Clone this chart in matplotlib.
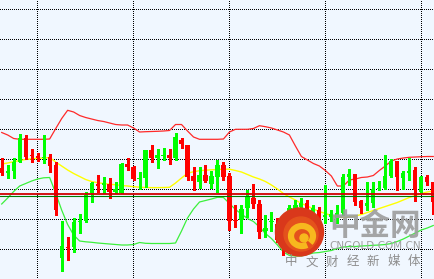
import matplotlib
matplotlib.use("Agg")
import matplotlib.pyplot as plt
from matplotlib.patches import Circle, Arc

plt.rcParams['font.family'] = ['Noto Sans CJK SC', 'DejaVu Sans']

# candle data (price units), one entry per bar
opens = [110.7, 106.3, 108, 117.3, 140.7, 124, 123, 120.7, 122.3, 114,
         21.3, 32.3, 32.3, 56.7, 58, 86.3, 95, 94, 94.7, 87.3,
         86.3, 115, 112.3, 100, 101.3, 129, 120.7, 122.7, 124, 120.7,
         139, 134, 103, 97.3, 104, 95, 102.3, 114, 103, 59,
         59, 70.7, 81.3, 75, 48.3, 57.3, 55, 37.3, 34, 70,
         72.3, 75.7, 67.3, 69, 62.3, 62, 60.7, 65.7, 101.7, 105,
         78.5, 73.5, 75.7, 90, 90.7, 103, 118, 101.3, 105.7, 109,
         87.3, 101.7, 96.7]
closes = [105.7, 108, 117.3, 140.7, 122.3, 123, 120.7, 122.3, 113.3, 69,
          33, 31.3, 57.3, 58.3, 84, 96.3, 93.3, 96, 87.3, 90,
          114.7, 112.3, 99.7, 101.3, 129, 121.3, 124, 123.3, 120.7, 141.7,
          135, 102.3, 98.3, 104, 98.3, 103.3, 114, 102.3, 58.3, 58.3,
          70, 82.3, 74.7, 47.3, 50.7, 58, 39, 30.7, 71, 74,
          75.7, 69, 71, 60.7, 64, 65, 65.7, 102.3, 105, 77.3,
          71, 76.2, 90.2, 91.3, 103, 118, 102.5, 105.7, 108, 89,
          102.3, 96.7, 76.7]
highs = [120.7, 114, 120.7, 144.7, 144, 130, 125.7, 144, 124.7, 117.3,
         58, 41.7, 61, 64.7, 87.3, 97.3, 104, 102.3, 100.7, 96.7,
         115.7, 120.7, 113, 107.3, 129.5, 134, 129.7, 130.7, 130, 145.7,
         140.7, 134, 111.7, 112.3, 114, 108, 119, 116.7, 105.7, 74,
         74, 89, 94.7, 79, 64, 66.7, 60.7, 41, 74, 79,
         81, 79, 74, 72.3, 94, 69, 74, 105, 109.7, 105,
         79, 96.7, 96.7, 98, 124, 119.7, 118, 108, 120.7, 112.3,
         103, 104, 96.7]
lows = [104, 100.7, 100.7, 116.7, 120, 117.3, 118, 115.7, 107.3, 64,
        8.3, 19, 26.7, 45.7, 56.7, 77.3, 87.3, 85.7, 80.7, 85.7,
        85.7, 109, 99, 90, 92.3, 117.3, 110.7, 119, 114.7, 119,
        131.3, 99, 89, 90.7, 96.7, 90.7, 87.3, 99, 49, 52.3,
        45.7, 62.3, 70.7, 41.3, 42.3, 48, 37.3, 24, 29, 65,
        67, 66, 65, 59, 55.7, 58, 55.7, 64, 94, 74,
        66, 69, 72.3, 89, 90, 102, 89, 90, 99, 78,
        86, 94, 64.7]

# bollinger bands
upper_band = [146.5, 144, 140.5, 139.7, 139.7, 139.7, 139.7, 139.7, 140, 150.3,
              160.4, 168.7, 167, 163.5, 161.5, 160, 158.5, 157.5, 156, 154.5,
              154, 154, 151, 147, 147.3, 147.5, 147.7, 148, 148.5, 154.5,
              154.5, 148, 142, 139.7, 139.7, 139.7, 139.7, 140, 147, 149.7,
              149.7, 149.7, 150.5, 153.3, 152.3, 151, 149, 147, 144, 133,
              122.5, 119, 115.5, 113, 108.5, 103, 93, 93, 99, 100,
              101.5, 102, 103.5, 108.5, 113, 118, 120, 121, 121.7, 122,
              122.3, 122.5, 122.5]
middle_band = [115, 116, 117.3, 118.5, 119.5, 120.2, 120.7, 121, 121.5, 117,
               113, 109, 105.5, 102.5, 99.5, 97.5, 96.3, 95.5, 94.8, 94.2,
               93.5, 93, 92.3, 91.8, 91.5, 91.4, 91.4, 91.5, 91.7, 96,
               101, 105.7, 107.3, 108.3, 108.8, 109.2, 109.5, 109.8, 109.8, 108.5,
               107, 104.5, 102, 100, 97.5, 94, 90, 85.5, 82, 79,
               75.5, 73, 70, 67.5, 65.5, 63.5, 62, 61.5, 62, 63,
               64.5, 66.5, 68.5, 70.5, 72.5, 74.5, 76.5, 79, 81.5, 83.5,
               85.5, 87, 88]
lower_band = [75, 81, 87.5, 93, 95.5, 98, 100, 101.2, 101.5, 86,
              69, 54.5, 44, 38, 37.2, 36.7, 36, 35.5, 35, 34.5,
              34, 34, 34.5, 36.5, 35.7, 35.5, 35.5, 35.5, 35.5, 36,
              48, 61, 70, 77, 78.5, 80, 81.7, 81.5, 75.5, 69.5,
              65, 60.5, 57.5, 52, 45.5, 40.5, 34, 27, 23.5, 23,
              23, 24.5, 26, 26.5, 27.5, 28.5, 30.5, 32, 32.5, 32.5,
              33, 33.3, 33.7, 34, 34.5, 35.5, 37.5, 40, 43, 46,
              49, 51, 53.5]

level_red = 84.6
level_green = 83.2
grid_x = [5.9, 21.9, 37.9, 53.9, 69.9]
grid_y = [30, 60, 90, 120, 150, 180, 210, 240, 270]

fig = plt.figure(figsize=(4.35, 2.79), dpi=100)
fig.patch.set_facecolor('#F0F7FF')
ax = fig.add_axes([0, 0, 1, 1])
ax.set_facecolor('#F0F7FF')

n = len(opens)
xs = list(range(n))
colors = ['#00FF00' if c >= o else '#FF0000' for o, c in zip(opens, closes)]
bottoms = [min(o, c) for o, c in zip(opens, closes)]
heights = [max(abs(c - o), 1.0) for o, c in zip(opens, closes)]

# bands
ax.plot(xs, upper_band, color='#FF2A2A', lw=0.9, zorder=2)
ax.plot(xs, middle_band, color='#FFFF00', lw=1.0, zorder=2)
ax.plot(xs, lower_band, color='#3CF03C', lw=0.9, zorder=2)

# candles
ax.vlines(xs, lows, highs, colors=colors, lw=0.75, zorder=3, antialiased=False)
ax.bar(xs, heights, bottom=bottoms, width=0.7, color=colors,
       antialiased=False, zorder=4)

# level line
ax.axhline(level_red, color='#D00000', lw=1.3, zorder=5)
ax.axhline(level_green, color='#007A00', lw=0.8, zorder=5)

ax.set_xticks(grid_x)
ax.set_yticks(grid_y)
ax.grid(True, color='black', linestyle=(0, (1, 1.6)), linewidth=0.72,
        antialiased=False)
ax.set_axisbelow(True)
ax.tick_params(length=0, labelbottom=False, labelleft=False)
for s in ax.spines.values():
    s.set_visible(False)
ax.set_xlim(-0.284, 72.29)
ax.set_ylim(0, 279)

# watermark
wm = fig.add_axes([0, 0, 1, 1])
wm.set_xlim(0, 435)
wm.set_ylim(279, 0)
wm.axis('off')
wm.patch.set_alpha(0)
wm.add_patch(Circle((299.5, 232), 24, color='#D9381B', zorder=1))
wm.add_patch(Circle((301, 234), 17, color='#E4521C', zorder=2))
wm.add_patch(Arc((302, 236), 22, 20, theta1=60, theta2=400, lw=4.5,
                 color='#F7B81E', zorder=3))
wm.add_patch(Circle((304, 238), 4, color='#F7B81E', zorder=3))
wm.text(375, 226, '中金网', fontsize=22, fontweight='bold', color='#9C9C9C',
        alpha=0.9, ha='center', va='center')
wm.text(375, 246, 'CNGOLD.COM.CN', fontsize=7.5, color='#A0A0A0',
        family='DejaVu Sans', ha='center', va='center')
for k, ch in enumerate('中文财经新媒体'):
    wm.text(291 + 20.5 * k, 262, ch, fontsize=9, color='#8E8E8E',
            ha='center', va='center')

fig.savefig('out.png', dpi=100, facecolor=fig.get_facecolor())
